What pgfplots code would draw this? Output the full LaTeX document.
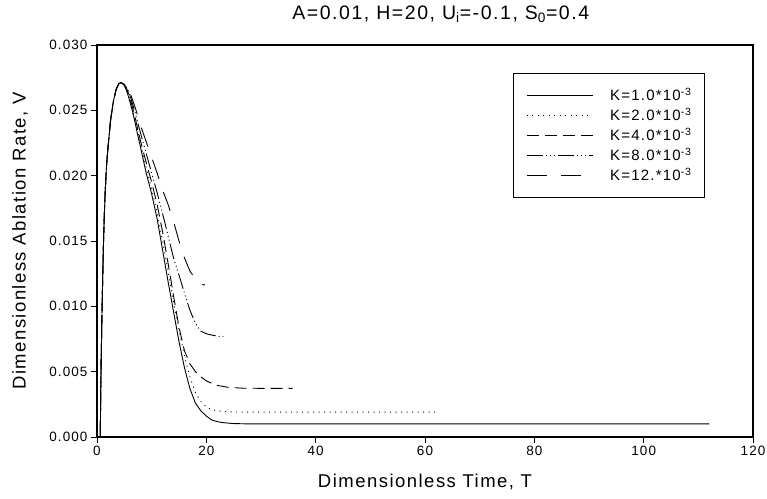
\documentclass[border=0pt]{standalone}
\usepackage{fontspec}
\setmainfont{Liberation Sans}[LetterSpace=8]
\usepackage{pgfplots}
\pgfplotsset{compat=1.18}
\begin{document}
\begin{tikzpicture}
\useasboundingbox (0,0) rectangle (767pt,498pt);
\begin{axis}[
  at={(97pt,61pt)}, anchor=south west,
  scale only axis, width=656pt, height=392pt,
  xmin=0, xmax=120, ymin=0, ymax=0.03,
  xtick={0,20,40,60,80,100,120},
  ytick={0,0.005,0.01,0.015,0.02,0.025,0.03},
  scaled y ticks=false,
  yticklabel style={/pgf/number format/.cd,fixed,fixed zerofill,precision=3},
  /pgf/number format/assume math mode=true,
  tick align=outside, xtick pos=bottom, ytick pos=left,
  major tick length=6pt,
  tick style={black, line width=0.9pt},
  axis line style={line width=1.1pt},
  ticklabel style={font=\fontsize{13.5}{15}\selectfont},
  xlabel={Dimensionless Time, T},
  ylabel={Dimensionless Ablation Rate, V},
  every axis x label/.style={at={(axis description cs:0.5,-0.1148)}, anchor=center, font=\fontsize{18.5}{21}\selectfont},
  every axis y label/.style={at={(axis description cs:-0.1174,0.5)}, anchor=center, rotate=90, font=\fontsize{18.5}{21}\selectfont},
  title={A=0.01, H=20, U\textsubscript{i}=-0.1, S\textsubscript{0}=0.4},
  every axis title/.style={at={(axis description cs:0.524,1.079)}, anchor=center, font=\fontsize{19.5}{23}\selectfont},
  legend style={at={(axis description cs:0.634,0.929)}, anchor=north west, draw=black, line width=0.8pt,
    inner xsep=13pt, inner ysep=12pt, row sep=0pt, column sep=17pt,
    font=\fontsize{15}{17}\selectfont, nodes={inner sep=0pt, minimum height=20pt}},
  legend cell align=left,
  legend image code/.code={\draw[#1] (0pt,0pt) -- (66pt,0pt);},
]
% K = 1.0e-3
\addplot[black, line width=0.9pt] coordinates {
(0.6,0) (0.65,0.002) (0.7,0.004) (0.8,0.0068) (0.9,0.0092) (1.0,0.0113) (1.15,0.0142) (1.3,0.0165) (1.5,0.0188) (1.75,0.0208) (2.0,0.0221) (2.5,0.0243) (3.0,0.0257) (3.5,0.0266) (4.0,0.02705) (4.4,0.02712) (5.0,0.0269)
(5.5,0.0264) (6.0,0.0257) (6.5,0.0249) (7.0,0.0240) (7.5,0.0230) (8.0,0.0221) (9.0,0.0202) (10.0,0.0186) (11.0,0.0167) (12.0,0.0143) (13.0,0.0119) (14.0,0.0096) (15.0,0.0073) (16.0,0.0053) (17.0,0.0037) (18.0,0.0026) (19.0,0.0020) (20.0,0.0016) (21.0,0.0013) (22.0,0.00118) (23.0,0.0011) (25.0,0.00103) (28.0,0.00100) (112.0,0.00100)
};
\addlegendentry{K=1.0*10\textsuperscript{-3}}
% K = 2.0e-3
\addplot[black, line width=0.9pt, dash pattern=on 1pt off 4.5pt] coordinates {
(0.6,0) (0.65,0.002) (0.7,0.004) (0.8,0.0068) (0.9,0.0092) (1.0,0.0113) (1.15,0.0142) (1.3,0.0165) (1.5,0.0188) (1.75,0.0208) (2.0,0.0221) (2.5,0.0243) (3.0,0.0257) (3.5,0.0266) (4.0,0.02705) (4.4,0.02712) (5.0,0.0269)
(5.5,0.0265) (6.0,0.0258) (7.0,0.0242) (8.0,0.0224) (9.0,0.0206) (10.0,0.0190) (11.0,0.0172) (12.0,0.0150) (13.0,0.0127) (14.0,0.0104) (15.0,0.0082) (16.0,0.0062) (17.0,0.0046) (18.0,0.0034) (19.0,0.0027) (20.0,0.0023) (21.0,0.0021) (22.0,0.0020) (24.0,0.00193) (27.0,0.0019) (61.8,0.0019)
};
\addlegendentry{K=2.0*10\textsuperscript{-3}}
% K = 4.0e-3
\addplot[black, line width=0.9pt, dash pattern=on 12pt off 6pt] coordinates {
(0.6,0) (0.65,0.002) (0.7,0.004) (0.8,0.0068) (0.9,0.0092) (1.0,0.0113) (1.15,0.0142) (1.3,0.0165) (1.5,0.0188) (1.75,0.0208) (2.0,0.0221) (2.5,0.0243) (3.0,0.0257) (3.5,0.0266) (4.0,0.02705) (4.4,0.02712) (5.0,0.0270)
(5.5,0.0266) (6.0,0.0260) (7.0,0.0244) (8.0,0.0226) (9.0,0.0210) (10.0,0.0195) (11.0,0.0178) (12.0,0.0157) (13.0,0.0133) (14.0,0.0108) (15.0,0.0084) (16.0,0.0066) (17.0,0.0056) (18.0,0.0050) (19.0,0.0046) (20.0,0.0043) (21.0,0.0041) (22.0,0.00395) (24.0,0.0038) (27.0,0.00373) (35.8,0.00372)
};
\addlegendentry{K=4.0*10\textsuperscript{-3}}
% K = 8.0e-3
\addplot[black, line width=0.9pt, dash pattern=on 16pt off 3pt on 1pt off 3pt on 1pt off 3pt on 1pt off 3pt] coordinates {
(0.6,0) (0.65,0.002) (0.7,0.004) (0.8,0.0068) (0.9,0.0092) (1.0,0.0113) (1.15,0.0142) (1.3,0.0165) (1.5,0.0188) (1.75,0.0208) (2.0,0.0221) (2.5,0.0243) (3.0,0.0257) (3.5,0.0266) (4.0,0.02705) (4.4,0.02712) (5.0,0.0270)
(5.5,0.0267) (6.0,0.0262) (7.0,0.0248) (8.0,0.0232) (9.0,0.0217) (10.0,0.0202) (11.0,0.0187) (12.0,0.0171) (13.0,0.0154) (14.0,0.0137) (15.0,0.0124) (16.0,0.0110) (17.0,0.0097) (18.0,0.0087) (19.0,0.0081) (20.0,0.0079) (21.0,0.0078) (22.0,0.00772) (23.1,0.00768)
};
\addlegendentry{K=8.0*10\textsuperscript{-3}}
% K = 12e-3
\addplot[black, line width=0.9pt, dash pattern=on 20pt off 14pt] coordinates {
(0.6,0) (0.65,0.002) (0.7,0.004) (0.8,0.0068) (0.9,0.0092) (1.0,0.0113) (1.15,0.0142) (1.3,0.0165) (1.5,0.0188) (1.75,0.0208) (2.0,0.0221) (2.5,0.0243) (3.0,0.0257) (3.5,0.0266) (4.0,0.02705) (4.4,0.02712) (5.0,0.0270)
(5.5,0.0268) (6.0,0.0264) (7.0,0.0252) (8.0,0.0238) (9.0,0.0226) (10.0,0.0214) (11.0,0.0202) (12.0,0.0189) (13.0,0.0178) (14.0,0.0165) (15.0,0.0150) (16.0,0.0137) (17.0,0.0127) (18.0,0.0121) (19.0,0.0117) (19.75,0.01163)
};
\addlegendentry{K=12.*10\textsuperscript{-3}}
\end{axis}
\end{tikzpicture}
\end{document}
